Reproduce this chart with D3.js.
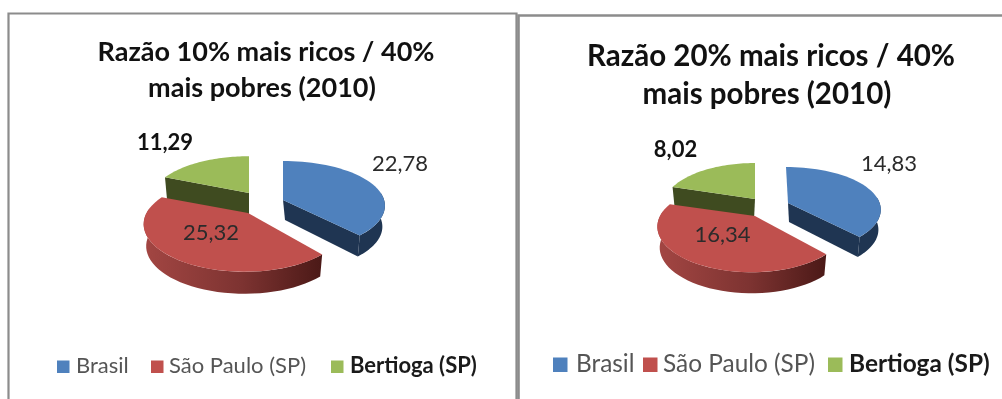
<!DOCTYPE html>
<html>
<head>
<meta charset="utf-8">
<script src="https://cdn.jsdelivr.net/npm/d3@7"></script>
<style>
  html, body { margin: 0; padding: 0; background: white; }
  svg { display: block; filter: blur(0.45px); }
  text { font-family: Lato, "Open Sans", sans-serif; }
</style>
</head>
<body>
<script>
const categories = ["Brasil", "São Paulo (SP)", "Bertioga (SP)"];
const values10 = [22.78, 25.32, 11.29];
const values20 = [14.83, 16.34, 8.02];
const titles10 = ["Razão 10% mais ricos / 40%", "mais pobres (2010)"];
const titles20 = ["Razão 20% mais ricos / 40%", "mais pobres (2010)"];
const colors = ["#4f81bd", "#c0504d", "#9bbb59"];
const sideColors = ["#1f3552", "url(#redSide)", "#3f4b20"];

const width = 1002, height = 399;

const svg = d3.select("body").append("svg")
    .attr("width", width)
    .attr("height", height);

const grad = svg.append("defs").append("linearGradient").attr("id", "redSide");
grad.append("stop").attr("offset", "0%").attr("stop-color", "#a34643");
grad.append("stop").attr("offset", "55%").attr("stop-color", "#7d3331");
grad.append("stop").attr("offset", "100%").attr("stop-color", "#4b1917");

const color = d3.scaleOrdinal().domain(categories).range(colors);
const sideColor = d3.scaleOrdinal().domain(categories).range(sideColors);
const decimal = d3.formatLocale({ decimal: ",", thousands: ".", grouping: [3], currency: ["", ""] }).format(".2f");
const pie = d3.pie().sort(null);
const line = d3.line();

// each slice sits on its own ellipse, k is the perspective
function point(e, t, down) {
    const u = Math.sin(t), v = -Math.cos(t), s = 1 + e.k * v;
    const shrink = down ? 0.975 : 1;
    return [e.cx + e.rx * u * s * shrink, e.cy + e.ry * v * s + (down ? e.depth : 0)];
}

function arcPoints(e, a, b, down) {
    const n = 40;
    return d3.range(n + 1).map(i => point(e, a + (b - a) * i / n, down));
}

function drawChart(values, titles, o) {
    const g = svg.append("g");
    const arcs = pie(values);

    g.selectAll(".title")
        .data(titles)
        .join("text")
        .attr("class", "title")
        .attr("x", (d, i) => o.titleX[i])
        .attr("y", (d, i) => o.titleY[i])
        .attr("text-anchor", "middle")
        .style("font-size", o.titleSize + "px")
        .style("font-weight", 700)
        .style("fill", "#111")
        .text(d => d);

    // back to front: green, blue, red
    [2, 0, 1].forEach(i => {
        const arc = arcs[i], e = o.slices[i], name = categories[i];
        const a = arc.startAngle, b = arc.endAngle;
        const apexDown = [e.apex[0] + e.apexDrop[0], e.apex[1] + e.apexDrop[1]];

        // inner wall
        if (i === 0) {
            g.append("path")
                .attr("d", line([e.apex, point(e, b), point(e, b, true), apexDown]) + "Z")
                .style("fill", sideColor(name));
        }
        if (i === 2) {
            g.append("path")
                .attr("d", line([e.apex, point(e, a), point(e, a, true), apexDown]) + "Z")
                .style("fill", sideColor(name));
        }

        // outer wall, only the front half shows
        const from = Math.max(a, Math.PI / 2 - 0.1), to = Math.min(b, Math.PI * 1.5 + 0.1);
        if (to > from) {
            const top = arcPoints(e, from, to, false);
            const bottom = arcPoints(e, from, to, true).reverse();
            g.append("path")
                .attr("d", line(top.concat(bottom)) + "Z")
                .style("fill", sideColor(name));
        }

        g.append("path")
            .attr("d", line([e.apex].concat(arcPoints(e, a, b, false))) + "Z")
            .style("fill", color(name));
    });

    g.selectAll(".value")
        .data(values)
        .join("text")
        .attr("class", "value")
        .attr("x", (d, i) => o.labels[i][0])
        .attr("y", (d, i) => o.labels[i][1])
        .attr("text-anchor", "middle")
        .style("font-size", o.labelSize + "px")
        .style("font-weight", (d, i) => i === 2 ? 700 : 400)
        .style("fill", (d, i) => i === 2 ? "#111" : "#2b2b2b")
        .text(d => decimal(d));

    const legend = g.selectAll(".legend")
        .data(categories)
        .join("g")
        .attr("class", "legend");

    legend.append("rect")
        .attr("x", (d, i) => o.legendRect[i])
        .attr("y", o.legendY - o.rectSize)
        .attr("width", o.rectSize)
        .attr("height", o.rectSize)
        .style("fill", d => color(d));

    legend.append("text")
        .attr("x", (d, i) => o.legendText[i])
        .attr("y", o.legendY)
        .style("font-size", o.legendSize + "px")
        .style("font-weight", (d, i) => i === 2 ? 700 : 400)
        .style("fill", (d, i) => i === 2 ? "#1a1a1a" : "#555")
        .text(d => d);
}

// panel frames
svg.append("path")
    .attr("d", "M8.5,399V13.5H516.5V399")
    .style("fill", "none").style("stroke", "#8c8c8c").style("stroke-width", 2.2);
svg.append("path")
    .attr("d", "M518.5,399V15.5H1002")
    .style("fill", "none").style("stroke", "#8c8c8c").style("stroke-width", 2.6);

drawChart(values10, titles10, {
    titleX: [266, 262], titleY: [61, 97], titleSize: 27,
    labelSize: 22, labels: [[400, 171], [211, 240], [165, 150]],
    legendY: 373, rectSize: 12.5, legendSize: 22,
    legendRect: [57, 151, 331], legendText: [76, 169, 350],
    slices: [
        { cx: 283, cy: 197, rx: 100, ry: 45, k: 0.2, depth: 21, apex: [283, 200], apexDrop: [2, 20] },
        { cx: 244.5, cy: 213, rx: 98, ry: 47, k: 0.25, depth: 22, apex: [248, 213], apexDrop: [0, 0] },
        { cx: 249, cy: 193, rx: 97.5, ry: 46, k: 0.2, depth: 23, apex: [249, 193], apexDrop: [0, 23] }
    ]
});

drawChart(values20, titles20, {
    titleX: [771, 767], titleY: [66, 104], titleSize: 29.5,
    labelSize: 22, labels: [[889, 171], [722.5, 242], [675.5, 157]],
    legendY: 372, rectSize: 14.5, legendSize: 24.4,
    legendRect: [553, 643, 828], legendText: [576, 663, 849],
    slices: [
        { cx: 786, cy: 201.4, rx: 93, ry: 43, k: 0.2, depth: 20, apex: [788, 203], apexDrop: [1, 19] },
        { cx: 751.5, cy: 216, rx: 91.5, ry: 45, k: 0.25, depth: 21, apex: [755, 216], apexDrop: [0, 0] },
        { cx: 755, cy: 199, rx: 91, ry: 45, k: 0.2, depth: 21, apex: [755, 199], apexDrop: [-1, 21] }
    ]
});
</script>
</body>
</html>
